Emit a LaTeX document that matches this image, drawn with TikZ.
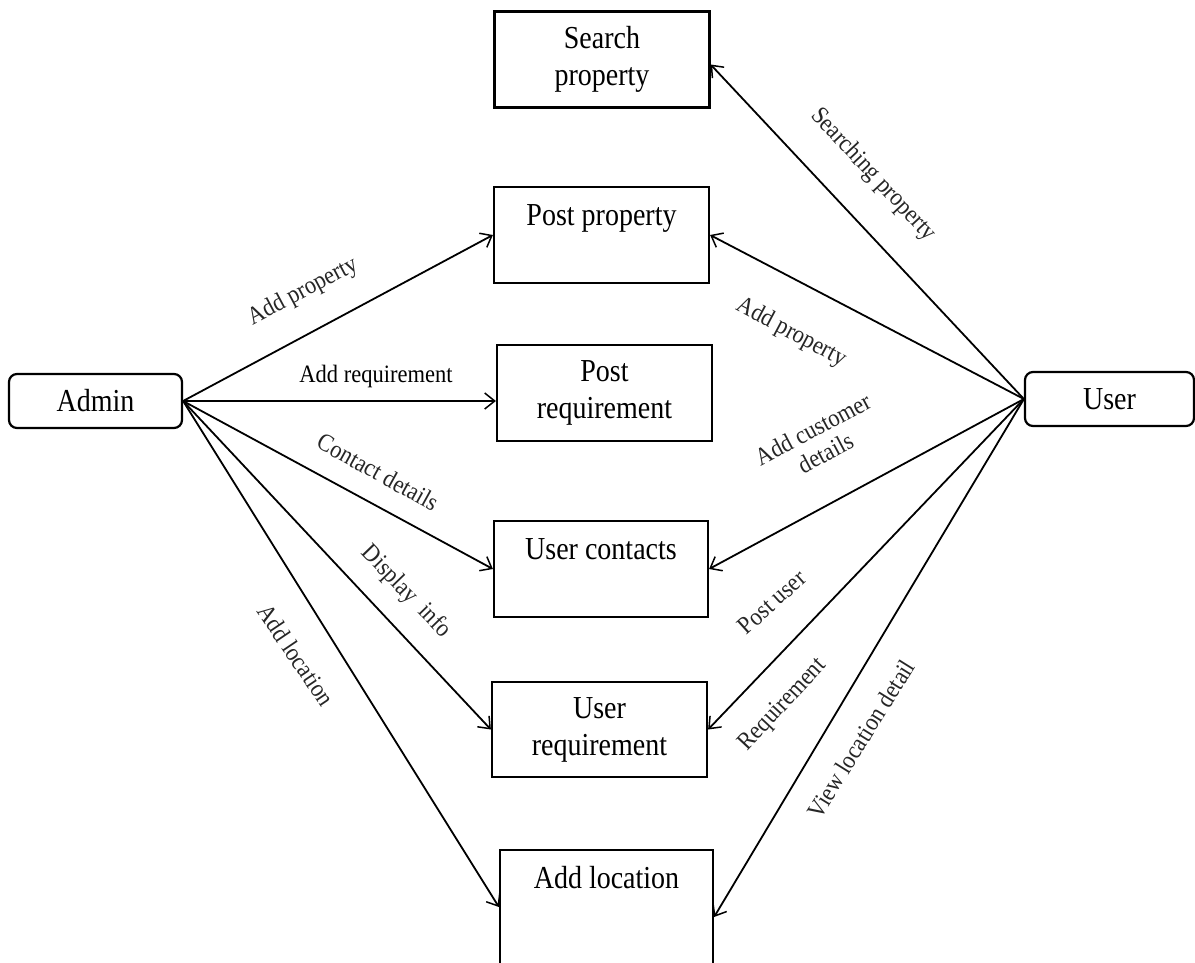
\documentclass[tikz,border=0pt]{standalone}
\usepackage{fontspec}
\setmainfont{Liberation Serif}
\newfontfamily\boxfnt[FakeStretch=0.875]{Liberation Serif}
\newfontfamily\lblfnt[FakeStretch=0.9]{Liberation Serif}
\usetikzlibrary{arrows.meta}
\tikzset{
  box/.style={draw, line width=2.2pt, inner sep=0pt, align=center,
    font=\boxfnt\fontsize{32}{37}\selectfont},
  topbox/.style={box, text height=38pt},
  actor/.style={draw, line width=2.2pt, rounded corners=8pt, inner sep=0pt,
    minimum height=54pt, font=\boxfnt\fontsize{32}{37}\selectfont},
  arr/.style={line width=1.8pt, -{Straight Barb[length=10pt,width=16pt,line width=1.5pt]}},
  lbl/.style={inner sep=0pt, align=center, text=black!85,
    font=\lblfnt\fontsize{25}{27}\selectfont}
}
\begin{document}
\begin{tikzpicture}[x=1pt,y=-1pt]
\clip (0,0) rectangle (1195,962);
\fill[white] (0,0) rectangle (1195,962);
% actors
\node[actor, minimum width=173pt] (admin) at (95.5,401) {Admin};
\node[actor, minimum width=169pt] (user) at (1109.5,399) {User};
% boxes
\node[box, minimum width=215pt, minimum height=96pt] (search) at (602,59.5) {Search\\property};
\node[topbox, text depth=58pt, minimum width=215pt] (postprop) at (601.5,235) {Post property};
\node[box, minimum width=215pt, minimum height=96pt] (postreq) at (604.5,393) {Post\\requirement};
\node[topbox, text depth=58pt, minimum width=214pt] (contacts) at (601,569) {User contacts};
\node[box, minimum width=215pt, minimum height=95pt] (userreq) at (599.5,729.5) {User\\requirement};
\node[topbox, text depth=76pt, minimum width=213pt] (addloc) at (606.5,907) {Add location};
% admin connectors
\draw[arr] (admin.east) -- (postprop.west);
\draw[arr] (admin.east) -- (admin.east -| postreq.west);
\draw[arr] (admin.east) -- (contacts.west);
\draw[arr] (admin.east) -- (userreq.west);
\draw[arr] (admin.east) -- (addloc.west);
% user connectors
\draw[arr] (user.west) -- ([yshift=-5pt]search.east);
\draw[arr] (user.west) -- (postprop.east);
\draw[arr] (user.west) -- (contacts.east);
\draw[arr] (user.west) -- (userreq.east);
\draw[arr] (user.west) -- ([yshift=-10pt]addloc.east);
% labels
\node[lbl, rotate=28] (lap1) at (303,292) {Add property};
\node[lbl, text=black] (lar) at (376,376) {Add requirement};
\node[lbl, rotate=-29] (lcd) at (378,472) {Contact details};
\node[lbl, rotate=-46] (ldi) at (406,592) {Display~ info};
\node[lbl, rotate=-56] (lal) at (296,655) {Add location};
\node[lbl, rotate=-47] (lsp) at (873,175) {Searching property};
\node[lbl, rotate=-28] (lap2) at (791,333) {Add property};
\node[lbl, rotate=28] (lacd) at (819,441) {Add customer\\details};
\node[lbl, rotate=42] (lpu) at (772,602) {Post user};
\node[lbl, rotate=47] (lrq) at (783,705) {Requirement};
\node[lbl, rotate=58] (lvl) at (861,739) {View location detail};
\end{tikzpicture}
\end{document}
